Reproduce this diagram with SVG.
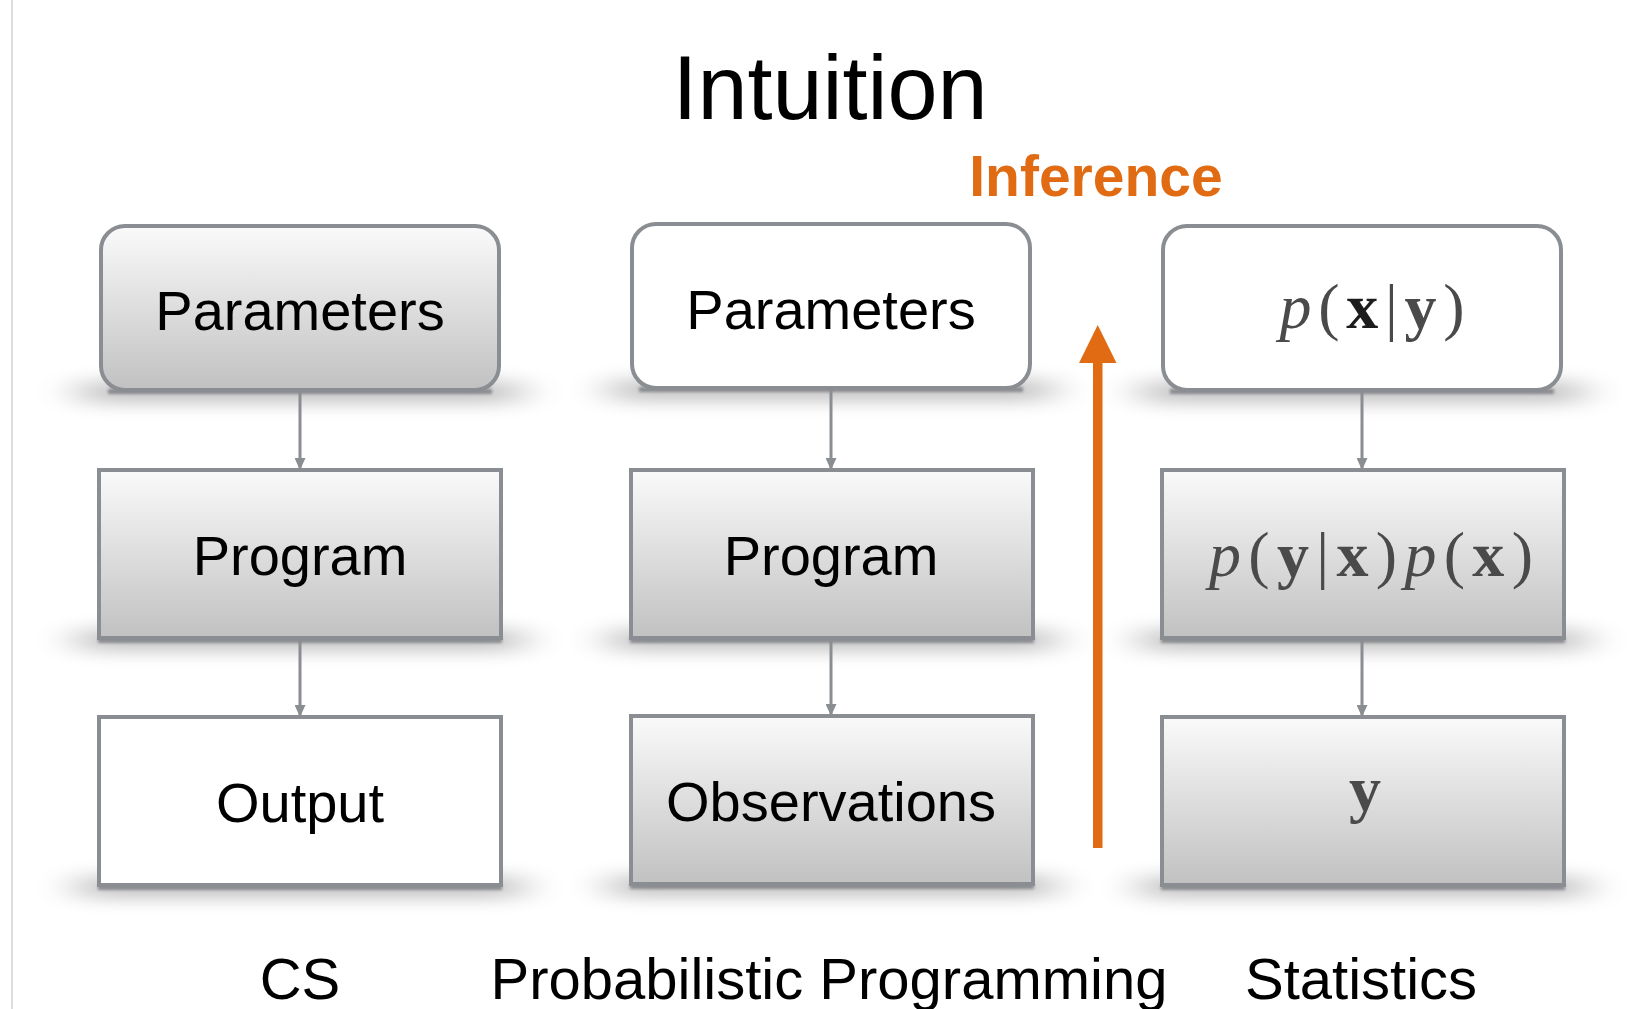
<svg xmlns="http://www.w3.org/2000/svg" width="1637" height="1009" viewBox="0 0 1637 1009">
  <defs>
    <linearGradient id="shade" x1="0" y1="0" x2="0" y2="1">
      <stop offset="0" stop-color="#fafafa"/>
      <stop offset="1" stop-color="#c1c1c2"/>
    </linearGradient>
    <filter id="soft" x="-30%" y="-300%" width="160%" height="700%">
      <feGaussianBlur stdDeviation="22 9"/>
    </filter>
    <filter id="edge" x="-5%" y="-100%" width="110%" height="300%">
      <feGaussianBlur stdDeviation="1.5"/>
    </filter>
    <marker id="head" viewBox="0 0 12 11" refX="12" refY="5.5" markerWidth="12" markerHeight="11" markerUnits="userSpaceOnUse" orient="auto">
      <path d="M0,0 L12,5.5 L0,11 z" fill="#8a8d91"/>
    </marker>
    <style>
      .box { stroke: #8a8d91; stroke-width: 4; }
      .plain { fill: #ffffff; }
      .grad { fill: url(#shade); }
      .shadow { fill: #000000; opacity: 0.26; filter: url(#soft); }
      .edge { fill: #6f7278; opacity: 0.75; filter: url(#edge); }
      .label { font-family: "Liberation Sans", Arial, sans-serif; font-size: 56px; fill: #000000; text-anchor: middle; }
      .math { font-family: "Liberation Serif", "Times New Roman", serif; font-size: 64px; fill: #4a4a4a; text-anchor: middle; }
      .it { font-style: italic; }
      .bf { font-weight: bold; }
      .link { stroke: #8a8d91; stroke-width: 3; fill: none; }
      .col { font-family: "Liberation Sans", Arial, sans-serif; font-size: 58px; fill: #000000; text-anchor: middle; }
    </style>
  </defs>

  <rect width="1637" height="1009" fill="#ffffff"/>
  <line x1="12" y1="0" x2="12" y2="1009" stroke="#d2d2d2" stroke-width="1.5"/>

  <!-- title and inference label -->
  <text x="830" y="119" font-family="'Liberation Sans', Arial, sans-serif" font-size="90" fill="#000000" text-anchor="middle">Intuition</text>
  <text id="inference-label" x="1096" y="196" font-family="'Liberation Sans', Arial, sans-serif" font-size="57" font-weight="bold" fill="#e06b13" text-anchor="middle">Inference</text>

  <!-- soft shadows beneath every box -->
  <g id="shadows">
    <rect class="shadow" x="80" y="382" width="440" height="20"/>
    <rect class="shadow" x="611" y="380" width="440" height="20"/>
    <rect class="shadow" x="1142" y="382" width="440" height="20"/>
    <rect class="shadow" x="78" y="630" width="444" height="20"/>
    <rect class="shadow" x="610" y="630" width="444" height="20"/>
    <rect class="shadow" x="1141" y="630" width="444" height="20"/>
    <rect class="shadow" x="78" y="877" width="444" height="20"/>
    <rect class="shadow" x="610" y="876" width="444" height="20"/>
    <rect class="shadow" x="1141" y="877" width="444" height="20"/>
    <rect class="edge" x="108" y="389" width="384" height="5"/>
    <rect class="edge" x="639" y="387" width="384" height="5"/>
    <rect class="edge" x="1170" y="389" width="384" height="5"/>
    <rect class="edge" x="98" y="638" width="404" height="5"/>
    <rect class="edge" x="630" y="638" width="404" height="5"/>
    <rect class="edge" x="1161" y="638" width="404" height="5"/>
    <rect class="edge" x="98" y="885" width="404" height="5"/>
    <rect class="edge" x="630" y="884" width="404" height="5"/>
    <rect class="edge" x="1161" y="885" width="404" height="5"/>
  </g>

  <!-- CS column -->
  <g id="cs-parameters">
    <rect class="box grad" x="101" y="226" width="398" height="164" rx="24"/>
    <text class="label" x="300" y="330">Parameters</text>
  </g>
  <g id="cs-program">
    <rect class="box grad" x="99" y="470" width="402" height="168"/>
    <text class="label" x="300" y="575">Program</text>
  </g>
  <g id="cs-output">
    <rect class="box plain" x="99" y="717" width="402" height="168"/>
    <text class="label" x="300" y="822">Output</text>
  </g>

  <!-- Probabilistic programming column -->
  <g id="pp-parameters">
    <rect class="box plain" x="632" y="224" width="398" height="164" rx="24"/>
    <text class="label" x="831" y="329">Parameters</text>
  </g>
  <g id="pp-program">
    <rect class="box grad" x="631" y="470" width="402" height="168"/>
    <text class="label" x="831" y="575">Program</text>
  </g>
  <g id="pp-observations">
    <rect class="box grad" x="631" y="716" width="402" height="168"/>
    <text class="label" x="831" y="821">Observations</text>
  </g>

  <!-- Statistics column -->
  <g id="st-posterior">
    <rect class="box plain" x="1163" y="226" width="398" height="164" rx="24"/>
    <text class="math" x="1372" y="328" textLength="185" lengthAdjust="spacing"><tspan class="it">p</tspan>(<tspan class="bf" fill="#1c1c1c">x</tspan>|<tspan class="bf">y</tspan>)</text>
  </g>
  <g id="st-joint">
    <rect class="box grad" x="1162" y="470" width="402" height="168"/>
    <text class="math" x="1371" y="576" textLength="324" lengthAdjust="spacing"><tspan class="it">p</tspan>(<tspan class="bf">y</tspan>|<tspan class="bf">x</tspan>)<tspan class="it">p</tspan>(<tspan class="bf">x</tspan>)</text>
  </g>
  <g id="st-data">
    <rect class="box grad" x="1162" y="717" width="402" height="168"/>
    <text class="math bf" x="1365" y="810">y</text>
  </g>

  <!-- connectors -->
  <g id="connectors">
    <line class="link" x1="300" y1="392" x2="300" y2="470" marker-end="url(#head)"/>
    <line class="link" x1="300" y1="640" x2="300" y2="717" marker-end="url(#head)"/>
    <line class="link" x1="831" y1="390" x2="831" y2="470" marker-end="url(#head)"/>
    <line class="link" x1="831" y1="640" x2="831" y2="716" marker-end="url(#head)"/>
    <line class="link" x1="1362" y1="392" x2="1362" y2="470" marker-end="url(#head)"/>
    <line class="link" x1="1362" y1="640" x2="1362" y2="717" marker-end="url(#head)"/>
    <!-- inference arrow, pointing upwards -->
    <g id="inference-arrow" fill="#e06b13">
      <rect x="1093" y="360" width="9.5" height="488"/>
      <path d="M1079,363 L1097.7,325 L1116.5,363 z"/>
    </g>
  </g>

  <!-- column captions -->
  <text class="col" x="300" y="999">CS</text>
  <text class="col" x="829" y="999">Probabilistic Programming</text>
  <text class="col" x="1361" y="999">Statistics</text>
</svg>
